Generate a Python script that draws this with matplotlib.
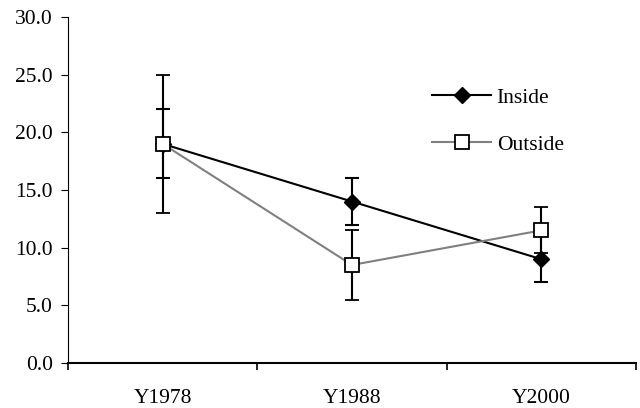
import matplotlib
matplotlib.use("Agg")
import matplotlib.pyplot as plt

plt.rcParams['font.family'] = ['Liberation Serif', 'DejaVu Serif']

years = ["Y1978", "Y1988", "Y2000"]
inside = [19.0, 14.0, 9.0]
inside_err = [3.0, 2.0, 2.0]
outside = [19.0, 8.5, 11.5]
outside_err = [6.0, 3.0, 2.0]

x = list(range(len(years)))

fig = plt.figure(figsize=(6.4, 4.08), dpi=100)
ax = fig.add_axes([68 / 640, 45 / 408, 568 / 640, 346 / 408])

ax.errorbar(x, inside, yerr=inside_err, color='black', lw=1.5,
            marker='D', ms=8, mfc='black', mec='black',
            ecolor='black', elinewidth=1.5, capsize=5, capthick=1.5,
            label='Inside', zorder=3)
ax.errorbar(x, outside, yerr=outside_err, color='#808080', lw=1.5,
            marker='s', ms=9.5, mfc='white', mec='black', mew=1.3,
            ecolor='black', elinewidth=1.5, capsize=5, capthick=1.5,
            label='Outside', zorder=4)

ax.set_xlim(-0.5, len(years) - 0.5)
ax.set_ylim(0, 30)
ax.set_yticks([0, 5, 10, 15, 20, 25, 30])
ax.set_yticklabels([f"{v:.1f}" for v in [0, 5, 10, 15, 20, 25, 30]])

ax.set_xticks([i - 0.5 for i in range(len(years) + 1)])
ax.set_xticklabels([])
ax.set_xticks(x, minor=True)
ax.set_xticklabels(years, minor=True)
ax.tick_params(axis='x', which='minor', length=0, pad=19, labelsize=15.5)
ax.tick_params(axis='x', which='major', length=5, width=1.2, direction='out')
ax.tick_params(axis='y', length=5, width=0.8, direction='out', labelsize=15.5, pad=6)

ax.spines['top'].set_visible(False)
ax.spines['right'].set_visible(False)
ax.spines['bottom'].set_linewidth(1.5)
ax.spines['left'].set_linewidth(0.8)

# legend shows only the line + marker, not the error bars
handles, labels = ax.get_legend_handles_labels()
handles = [h[0] for h in handles]
ax.legend(handles, labels, loc='upper left', bbox_to_anchor=(0.641, 0.795),
          frameon=False, fontsize=15.5, handlelength=2.75, labelspacing=1.25,
          handletextpad=0.25, borderpad=0, borderaxespad=0)

fig.savefig("out.png", dpi=100)
